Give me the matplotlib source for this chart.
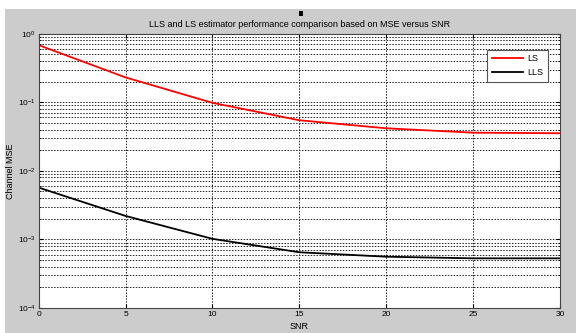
import numpy as np
import matplotlib.pyplot as plt
from matplotlib.patches import Rectangle
from matplotlib.ticker import LogLocator, NullFormatter

snr = [0, 5, 10, 15, 20, 25, 30]
mse_ls = [0.68, 0.23, 0.098, 0.0546, 0.0417, 0.036, 0.0353]
mse_lls = [0.0057, 0.0022, 0.00102, 0.00065, 0.00056, 0.00053, 0.00053]

plt.rcParams['font.family'] = ['Liberation Sans', 'DejaVu Sans']
plt.rcParams['mathtext.fontset'] = 'custom'
plt.rcParams['mathtext.rm'] = 'Liberation Sans'

fig = plt.figure(figsize=(5.76, 3.33), dpi=100, facecolor='white')
# matlab-style grey window area
fig.patches.append(Rectangle((5 / 576, 0), 1, (333 - 9) / 333, transform=fig.transFigure,
                             facecolor='#cccccc', edgecolor='none', zorder=-10))
fig.patches.append(Rectangle((299 / 576, (333 - 16) / 333), 4 / 576, 5 / 333,
                             transform=fig.transFigure, facecolor='black', edgecolor='none'))

ax = fig.add_axes([0.0672, 0.075, 0.9050, 0.824])
ax.semilogy(snr, mse_ls, color='#ff0000', linewidth=1.3, label='LS')
ax.semilogy(snr, mse_lls, color='black', linewidth=1.3, label='LLS')

ax.set_xlim(0, 30)
ax.set_ylim(1e-4, 1)
ax.set_xticks([0, 5, 10, 15, 20, 25, 30])
ax.yaxis.set_major_locator(LogLocator(base=10, numticks=10))
ax.yaxis.set_minor_locator(LogLocator(base=10, subs=np.arange(2, 10), numticks=10))
ax.yaxis.set_minor_formatter(NullFormatter())

ax.grid(True, which='major', axis='both', color='#222222', linestyle=(0, (1.5, 1.5)), linewidth=0.7)
ax.grid(True, which='minor', axis='y', color='#222222', linestyle=(0, (1.5, 1.5)), linewidth=0.7)

ax.tick_params(which='both', direction='in', top=True, right=True, labelsize=6, pad=2)
ax.tick_params(which='major', length=3)
ax.tick_params(which='minor', length=1.5)
for s in ax.spines.values():
    s.set_color('#444444')
    s.set_linewidth(0.8)

ax.set_title('LLS and LS estimator performance comparison based on MSE versus SNR', fontsize=6.5, pad=5)
ax.set_xlabel('SNR', fontsize=6.5, labelpad=3)
ax.set_ylabel('Channel MSE', fontsize=6.5)
ax.yaxis.set_label_coords(-0.045, 0.5)

leg = ax.legend(loc='upper right', bbox_to_anchor=(0.985, 0.958), fontsize=6.5, fancybox=False,
                framealpha=1, edgecolor='#555555', handlelength=3.4, borderpad=0.5,
                labelspacing=0.55, handletextpad=0.5)
leg.get_frame().set_linewidth(0.8)

fig.savefig('out.png', dpi=100, facecolor=fig.get_facecolor())
